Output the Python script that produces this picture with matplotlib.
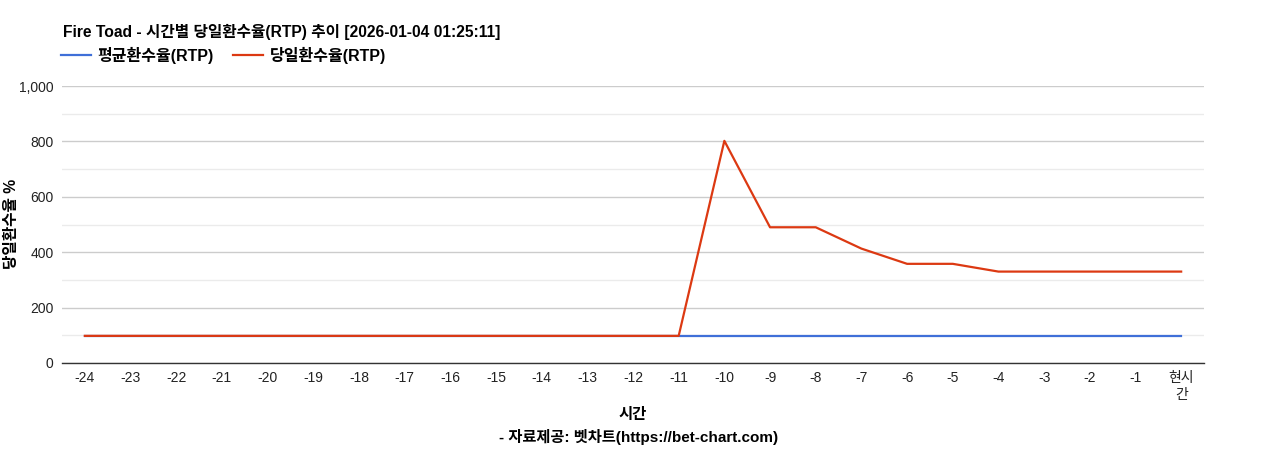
import matplotlib
matplotlib.use("Agg")
import matplotlib.pyplot as plt
from matplotlib.ticker import MultipleLocator, FuncFormatter

plt.rcParams['font.family'] = ['Liberation Sans', 'Noto Sans CJK KR', 'DejaVu Sans']

categories = ['-24', '-23', '-22', '-21', '-20', '-19', '-18', '-17', '-16', '-15',
              '-14', '-13', '-12', '-11', '-10', '-9', '-8', '-7', '-6', '-5',
              '-4', '-3', '-2', '-1', '현시\n간']
avg_rtp = [98] * 25
day_rtp = [98, 98, 98, 98, 98, 98, 98, 98, 98, 98, 98, 98, 98, 98,
           802, 490, 490, 413, 358, 358, 330, 330, 330, 330, 330]

title = 'Fire Toad - 시간별 당일환수율(RTP) 추이 [2026-01-04 01:25:11]'
series_names = ['평균환수율(RTP)', '당일환수율(RTP)']

fig = plt.figure(figsize=(12.68, 4.5), dpi=100)
ax = fig.add_axes([62/1268, 1 - 363/450, (1204-62)/1268, (363-86)/450])

x = list(range(len(categories)))
ax.plot(x, avg_rtp, color='#3f6fd8', lw=1.6, label=series_names[0], zorder=3)
ax.plot(x, day_rtp, color='#dc3912', lw=1.6, label=series_names[1], zorder=4)

ax.set_xlim(-0.5, len(categories) - 0.5)
ax.set_ylim(0, 1000)
ax.yaxis.set_major_locator(MultipleLocator(200))
ax.yaxis.set_minor_locator(MultipleLocator(100))
ax.yaxis.set_major_formatter(FuncFormatter(lambda v, p: f'{int(v):,}'))
ax.grid(axis='y', which='major', color='#cccccc', lw=1)
ax.grid(axis='y', which='minor', color='#ebebeb', lw=1)
ax.set_axisbelow(True)
ax.set_xticks(x)
ax.set_xticklabels(categories, fontsize=10, color='#222222', linespacing=1.2)
ax.tick_params(axis='x', length=0, pad=6)
ax.tick_params(axis='y', which='both', length=0, labelsize=10, labelcolor='#222222', pad=6)
for s in ['top', 'right', 'left']:
    ax.spines[s].set_visible(False)
ax.spines['bottom'].set_color('#333333')
ax.spines['bottom'].set_linewidth(1)

fig.text(12/1268, 1 - 224/450, '당일환수율 %', ha='center', va='center', rotation=90,
         fontsize=11.3, fontweight='bold')
fig.text(633/1268, 1 - 415/450, '시간', ha='center', va='center', fontsize=11.1, fontweight='bold')
fig.text(639/1268, 1 - 437/450, '- 자료제공: 벳차트(https://bet-chart.com)', ha='center', va='center',
         fontsize=11.0, fontweight='bold')

fig.text(63/1268, 1 - 32/450, title, ha='left', va='center', fontsize=11.25, fontweight='bold')
leg = fig.legend(loc='center left', bbox_to_anchor=(61/1268, 1 - 55/450), ncol=2, frameon=False,
                 prop={'size': 11.5, 'weight': 'bold'}, handlelength=1.85, columnspacing=1.2,
                 handletextpad=0.45, borderaxespad=0, borderpad=0)

fig.savefig('out.png', dpi=100, facecolor='white')
